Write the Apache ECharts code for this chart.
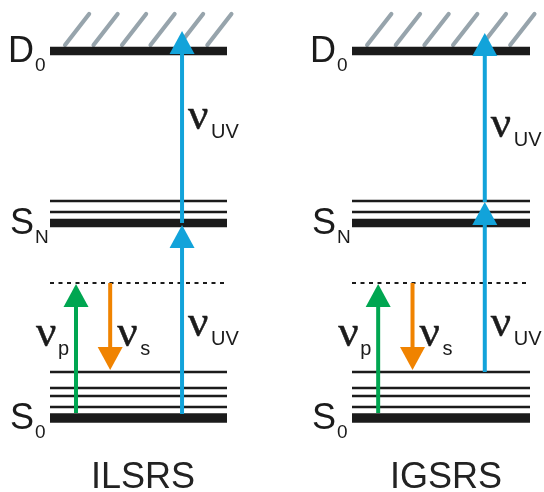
<!DOCTYPE html>
<html>
<head>
<meta charset="utf-8">
<script src="https://cdn.jsdelivr.net/npm/echarts@6/dist/echarts.min.js"></script>
<style>
  html, body { margin: 0; padding: 0; background: #fff; }
  #chart { width: 544px; height: 492px; }
</style>
</head>
<body>
<div id="chart"></div>
<script>
// Energy-level schemes for ionization-loss (ILSRS) and ionization-gain (IGSRS)
// stimulated Raman spectroscopy. Energies are in arbitrary diagram units with
// the S0 origin at 0; horizontal positions run 0..1 across a level line.

const panels = ['ILSRS', 'IGSRS'];

const groundLevels = [0, 11, 22, 30, 46];   // S0 origin and vibrational levels
const excitedLevels = [195, 206, 217];      // SN origin and levels above it
const virtualLevel = 135;                   // dashed virtual state
const ionLimit = 367;                       // D0 ionization threshold

const levelNames = ['D', 'S', 'S'];
const levelSubs = ['0', 'N', '0'];
const levelEnergies = [367, 195, 0];

const hatchX = [0.085, 0.246, 0.407, 0.568, 0.729, 0.889];

// beam positions across a level: pump, Stokes, UV
const beamX = [0.147, 0.34, 0.746];
const pumpPath = [5, 134];
const stokesPath = [135, 48];
const uvPaths = [
  [[4, 193], [195, 387]],    // ILSRS: UV photons from S0 through SN
  [[46, 216], [216, 385]]    // IGSRS: UV photons from the excited vibrational level
];

const nuSubs = ['p', 's', 'UV', 'UV'];
const nuBeams = [0, 1, 2, 2];
const nuEnergies = [
  [85, 85, 95, 302],
  [85, 85, 95, 294]
];

const INK = '#1b1b1b';
const HATCH = '#97a4ac';
const BEAM_COLORS = ['#00a651', '#f08300', '#12a3da'];
const SANS = 'Liberation Sans, Arial, sans-serif';
const SERIF = 'Liberation Serif, Times New Roman, serif';

function levelItem(params, api) {
  const e = api.value(0);
  const thick = api.value(1);
  const a = api.coord([0, e]);
  const b = api.coord([1, e]);
  return {
    type: 'line',
    shape: { x1: a[0], y1: a[1], x2: b[0], y2: b[1] },
    style: { stroke: INK, lineWidth: thick ? (e === 0 ? 9.5 : 8.5) : 2.6 }
  };
}

function virtualItem(params, api) {
  const e = api.value(0);
  const a = api.coord([0, e]);
  const b = api.coord([1, e]);
  return {
    type: 'line',
    shape: { x1: a[0], y1: a[1], x2: b[0], y2: b[1] },
    style: { stroke: INK, lineWidth: 2, lineDash: [4, 4.5] }
  };
}

function hatchItem(params, api) {
  const x = api.value(0);
  const a = api.coord([x, ionLimit + 6]);
  const b = api.coord([x + 0.136, ionLimit + 37]);
  return {
    type: 'line',
    shape: { x1: a[0], y1: a[1], x2: b[0], y2: b[1] },
    style: { stroke: HATCH, lineWidth: 4.2, lineCap: 'round' }
  };
}

function arrowItem(params, api) {
  const x = api.value(0);
  const from = api.value(1);
  const to = api.value(2);
  const color = BEAM_COLORS[api.value(3)];
  const p0 = api.coord([x, from]);
  const tip = api.coord([x, to]);
  const dir = tip[1] < p0[1] ? 1 : -1;   // 1 = pointing up
  const headLen = 23, headHalf = 12.5;
  const baseY = tip[1] + dir * headLen;
  return {
    type: 'group',
    children: [
      {
        type: 'line',
        shape: { x1: p0[0], y1: p0[1], x2: tip[0], y2: baseY + dir * -1 },
        style: { stroke: color, lineWidth: 4 }
      },
      {
        type: 'polygon',
        shape: { points: [[tip[0], tip[1]], [tip[0] - headHalf, baseY], [tip[0] + headHalf, baseY]] },
        style: { fill: color }
      }
    ]
  };
}

function levelLabelItem(params, api) {
  const e = api.value(0);
  const i = params.dataIndex;
  const p = api.coord([0, e]);
  return {
    type: 'group',
    children: [
      {
        type: 'text',
        style: {
          x: p[0] - 16, y: p[1] + 1, text: levelNames[i],
          font: '36px ' + SANS, fill: INK, align: 'right', verticalAlign: 'middle'
        }
      },
      {
        type: 'text',
        style: {
          x: p[0] - 15, y: p[1] + 15, text: levelSubs[i],
          font: '19px ' + SANS, fill: INK, align: 'left', verticalAlign: 'middle'
        }
      }
    ]
  };
}

function nuItem(params, api) {
  const i = params.dataIndex;
  const e = api.value(0);
  const bx = beamX[nuBeams[i]];
  const p = api.coord([bx, e]);
  let nuX, subX;
  if (i === 0) { nuX = p[0] - 40; subX = p[0] - 18; }
  else if (i === 1) { nuX = p[0] + 7; subX = p[0] + 30; }
  else { nuX = p[0] + 6; subX = p[0] + 29; }
  return {
    type: 'group',
    children: [
      {
        type: 'text',
        style: {
          x: nuX, y: p[1] + 1, text: 'ν',
          font: '45px ' + SERIF, fill: INK, stroke: INK, lineWidth: 0.5,
          align: 'left', verticalAlign: 'middle'
        }
      },
      {
        type: 'text',
        style: {
          x: subX, y: p[1] + 16, text: nuSubs[i],
          font: '20px ' + SANS, fill: INK, align: 'left', verticalAlign: 'middle'
        }
      }
    ]
  };
}

const grids = [
  { left: 50, width: 177, top: 51, bottom: 74 },
  { left: 352, width: 178, top: 51, bottom: 74 }
];

const series = [];
panels.forEach((name, k) => {
  const axes = { xAxisIndex: k, yAxisIndex: k, clip: false, silent: true, animation: false };
  const levels = []
    .concat(groundLevels.map((e, j) => [e, j === 0 ? 1 : 0]))
    .concat(excitedLevels.map((e, j) => [e, j === 0 ? 1 : 0]))
    .concat([[ionLimit, 1]]);
  series.push(Object.assign({ type: 'custom', renderItem: hatchItem, data: hatchX.map(x => [x]), z: 1 }, axes));
  series.push(Object.assign({ type: 'custom', renderItem: levelItem, data: levels, z: 2 }, axes));
  series.push(Object.assign({ type: 'custom', renderItem: virtualItem, data: [[virtualLevel]], z: 2 }, axes));
  const arrows = [
    [beamX[0], pumpPath[0], pumpPath[1], 0],
    [beamX[1], stokesPath[0], stokesPath[1], 1]
  ].concat(uvPaths[k].map(seg => [beamX[2], seg[0], seg[1], 2]));
  series.push(Object.assign({ type: 'custom', renderItem: arrowItem, data: arrows, z: 3 }, axes));
  series.push(Object.assign({ type: 'custom', renderItem: levelLabelItem, data: levelEnergies.map(e => [e]), z: 4 }, axes));
  series.push(Object.assign({ type: 'custom', renderItem: nuItem, data: nuEnergies[k].map(e => [e]), z: 4 }, axes));
});

const chart = echarts.init(document.getElementById('chart'), null, { renderer: 'canvas' });
chart.setOption({
  backgroundColor: '#ffffff',
  animation: false,
  title: panels.map((name, k) => ({
    text: name,
    left: k === 0 ? 138 : 441,
    top: 455,
    textAlign: 'center',
    textStyle: { fontFamily: SANS, fontSize: 36, fontWeight: 'normal', color: '#222' }
  })),
  grid: grids,
  xAxis: grids.map((g, k) => ({ type: 'value', gridIndex: k, min: 0, max: 1, show: false })),
  yAxis: grids.map((g, k) => ({ type: 'value', gridIndex: k, min: 0, max: ionLimit, show: false })),
  series: series
});
</script>
</body>
</html>
